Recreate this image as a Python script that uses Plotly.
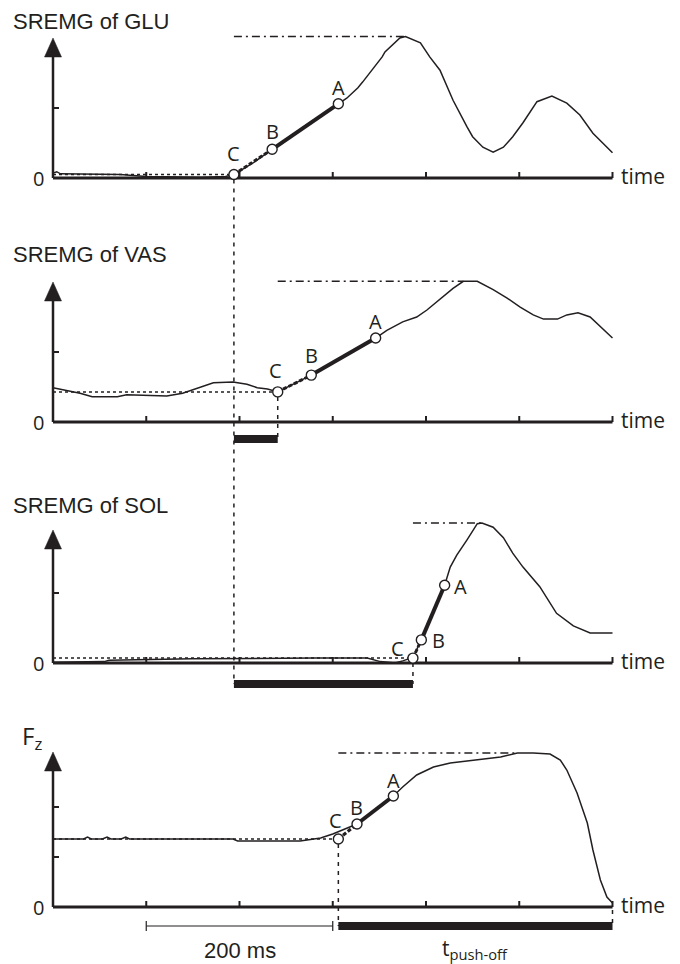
import plotly.graph_objects as go

# ---------------- data (time in ms, signal in axis-tick units) ----------------
glu_t = [0, 4, 8, 20, 40, 72, 100, 130, 160, 185, 194, 215, 235, 270, 306, 315, 327, 332,
         353, 356, 372, 378, 394, 404, 415, 429, 444, 450, 461, 472, 483, 493, 504, 519,
         535, 551, 565, 579, 600]
glu_y = [0.07, 0.09, 0.06, 0.06, 0.06, 0.05, 0.02, 0.01, 0.01, 0.02, 0.05, 0.22, 0.41,
         0.74, 1.06, 1.14, 1.29, 1.37, 1.73, 1.80, 2.00, 2.02, 1.93, 1.73, 1.54, 1.11, 0.73,
         0.59, 0.44, 0.37, 0.44, 0.59, 0.79, 1.09, 1.17, 1.07, 0.90, 0.64, 0.36]
glu_key_t = [194, 235, 306]          # C, B, A
glu_key_y = [0.05, 0.41, 1.06]

vas_t = [0, 7.5, 29, 42, 69, 79, 100, 122, 139, 158, 172, 193, 208, 219, 230, 241, 277,
         346, 358, 375, 390, 401, 415, 429, 440, 455, 472, 487, 501, 515, 526, 541, 551,
         563, 576, 587, 600]
vas_y = [0.49, 0.47, 0.41, 0.36, 0.36, 0.39, 0.38, 0.37, 0.41, 0.50, 0.56, 0.57, 0.54,
         0.49, 0.47, 0.43, 0.67, 1.20, 1.31, 1.43, 1.50, 1.60, 1.76, 1.91, 2.01, 2.01,
         1.89, 1.77, 1.64, 1.53, 1.47, 1.47, 1.53, 1.56, 1.50, 1.36, 1.20]
vas_key_t = [241, 277, 346]
vas_key_y = [0.43, 0.67, 1.20]

sol_t = [0, 55, 60, 150, 280, 337, 351, 367, 375, 386, 395, 420, 426, 433, 444, 455, 460,
         472, 483, 493, 504, 522, 540, 558, 576, 600]
sol_y = [0.01, 0.02, 0.04, 0.06, 0.07, 0.07, 0.02, 0.00, 0.03, 0.08, 0.33, 1.11, 1.37,
         1.54, 1.76, 1.99, 2.00, 1.94, 1.79, 1.57, 1.37, 1.09, 0.71, 0.53, 0.43, 0.43]
sol_key_t = [386, 395, 420]
sol_key_y = [0.07, 0.33, 1.11]

fz_t = [0, 33, 37, 41, 53, 58, 62, 73, 78, 82, 193, 198, 265, 279, 287, 300, 315, 326,
        365, 375, 390, 408, 426, 451, 480, 498, 515, 533, 544, 551, 562, 573, 579, 587,
        594, 600]
fz_y = [1.36, 1.36, 1.40, 1.36, 1.36, 1.40, 1.36, 1.36, 1.40, 1.36, 1.36, 1.32, 1.32,
        1.36, 1.38, 1.46, 1.58, 1.66, 2.22, 2.40, 2.64, 2.80, 2.88, 2.94, 3.00, 3.08,
        3.08, 3.06, 2.94, 2.74, 2.28, 1.68, 1.14, 0.54, 0.20, 0.08]
fz_key_t = [306, 326, 365]
fz_key_y = [1.36, 1.66, 2.22]

key_labels = ["C", "B", "A"]
panel_titles = ["SREMG of GLU", "SREMG of VAS", "SREMG of SOL", "F<sub>z</sub>"]
x_ticks_ms = [100, 200, 300, 400, 500, 600]
time_end_ms = 600
scale_bar_ms = [100, 300]
scale_bar_label = "200 ms"
pushoff_label = "t<sub>push-off</sub>"
axis_label = "time"

# ---------------- layout constants (pixels) ----------------
W, H = 680, 964
ORIGIN_PX = 53
PX_PER_MS = 0.9325
INK = "#231f20"
TITLE_FONT = "Liberation Sans, Arial, sans-serif"
LABEL_FONT = "Open Sans, sans-serif"


def py(px):
    return 1 - px / H


panels = [
    dict(ax="y", t=glu_t, v=glu_y, kt=glu_key_t, kv=glu_key_y, base=178, scale=70,
         arrow=140, yticks=[1], title_px=21,
         offs=[(0, 21), (0, 18), (0, 16)]),
    dict(ax="y2", t=vas_t, v=vas_y, kt=vas_key_t, kv=vas_key_y, base=422, scale=70,
         arrow=140, yticks=[1], title_px=255,
         offs=[(-2, 21), (0, 20), (0, 17)]),
    dict(ax="y3", t=sol_t, v=sol_y, kt=sol_key_t, kv=sol_key_y, base=663, scale=70,
         arrow=133, yticks=[1], title_px=505,
         offs=[(-15, 10), (17, -1), (16, -1)]),
    dict(ax="y4", t=fz_t, v=fz_y, kt=fz_key_t, kv=fz_key_y, base=907, scale=50,
         arrow=155, yticks=[1, 2], title_px=None,
         offs=[(-3, 19), (-1, 17), (0, 16)]),
]


def val_px(p, v):
    return p["base"] - v * p["scale"]


fig = go.Figure()
shapes = []
annotations = []

for i, p in enumerate(panels):
    ax = p["ax"]
    t, v, kt, kv = p["t"], p["v"], p["kt"], p["kv"]
    imax = max(range(len(v)), key=lambda k: v[k])
    # dotted pre-activation level
    fig.add_trace(go.Scatter(x=[0, kt[0]], y=[kv[0], kv[0]], mode="lines", yaxis=ax,
                             line=dict(color=INK, width=1.5, dash="3px,3px")))
    # dash-dot peak level
    fig.add_trace(go.Scatter(x=[kt[0], t[imax]], y=[v[imax], v[imax]], mode="lines",
                             yaxis=ax,
                             line=dict(color=INK, width=1.5, dash="8px,4px,2px,4px")))
    # signal
    fig.add_trace(go.Scatter(x=t, y=v, mode="lines", yaxis=ax,
                             line=dict(color=INK, width=1.5)))
    # C-B dashed, B-A thick
    fig.add_trace(go.Scatter(x=kt[0:2], y=kv[0:2], mode="lines", yaxis=ax,
                             line=dict(color=INK, width=3, dash="4px,2px")))
    fig.add_trace(go.Scatter(x=kt[1:3], y=kv[1:3], mode="lines", yaxis=ax,
                             line=dict(color=INK, width=4)))
    fig.add_trace(go.Scatter(x=kt, y=kv, mode="markers", yaxis=ax,
                             marker=dict(size=10, color="white",
                                         line=dict(color=INK, width=1.4))))
    yref = ax
    # x axis line
    shapes.append(dict(type="line", xref="x", yref=yref, x0=0, x1=time_end_ms, y0=0, y1=0,
                       line=dict(color=INK, width=3), layer="below"))
    for tk in x_ticks_ms:
        shapes.append(dict(type="line", xref="x", yref=yref, ysizemode="pixel", yanchor=0,
                           x0=tk, x1=tk, y0=0, y1=6, line=dict(color=INK, width=2),
                           layer="below"))
    # y axis line + arrow
    top = p["arrow"] / p["scale"]
    shapes.append(dict(type="line", xref="x", yref=yref, ysizemode="pixel", yanchor=0,
                       x0=0, x1=0, y0=0, y1=p["arrow"] - 16,
                       line=dict(color=INK, width=2.5), layer="below"))
    shapes.append(dict(type="path", xref="x", yref=yref, xsizemode="pixel",
                       ysizemode="pixel", xanchor=0, yanchor=top,
                       path="M -8.5,-19 L 8.5,-19 L 0,0 Z", fillcolor=INK,
                       line=dict(color=INK, width=0.5)))
    for yt in p["yticks"]:
        shapes.append(dict(type="line", xref="x", yref=yref, xsizemode="pixel", xanchor=0,
                           x0=0, x1=6, y0=yt, y1=yt, line=dict(color=INK, width=2),
                           layer="below"))
    # "0" and "time"
    annotations.append(dict(x=0, y=0, xref="x", yref=yref, text="0", showarrow=False,
                            xanchor="center", yanchor="middle", xshift=-15,
                            font=dict(family=LABEL_FONT, size=20, color=INK)))
    annotations.append(dict(x=time_end_ms, y=0, xref="x", yref=yref, text=axis_label,
                            showarrow=False, xanchor="left", yanchor="middle", xshift=6,
                            yshift=2, font=dict(family=LABEL_FONT, size=21, color=INK)))
    # key point labels
    for lab, tx, vy, (dx, dy) in zip(key_labels, kt, kv, p["offs"]):
        annotations.append(dict(x=tx, y=vy, xref="x", yref=yref, text=lab, showarrow=False,
                                xanchor="center", yanchor="middle", xshift=dx, yshift=dy,
                                font=dict(family=LABEL_FONT, size=20, color=INK)))
    if p["title_px"] is not None:
        annotations.append(dict(x=11 / W, y=py(p["title_px"]), xref="paper", yref="paper",
                                text=panel_titles[i], showarrow=False, xanchor="left",
                                yanchor="middle",
                                font=dict(family=TITLE_FONT, size=22, color=INK)))

# Fz label
annotations.append(dict(x=20 / W, y=py(737), xref="paper", yref="paper",
                        text=panel_titles[3], showarrow=False, xanchor="left",
                        yanchor="middle", font=dict(family=LABEL_FONT, size=24, color=INK)))

# ---------------- onset bars and connecting dotted lines ----------------
glu, vas, sol, fz = panels
BAR_H = 8
vas_bar_px = vas["base"] + 17
sol_bar_px = sol["base"] + 21
fz_bar_px = fz["base"] + 19
dot = dict(color=INK, width=1.5, dash="4px,5px")


def bar(x0, x1, cpx):
    shapes.append(dict(type="rect", xref="x", yref="paper", x0=x0, x1=x1,
                       y0=py(cpx + BAR_H / 2), y1=py(cpx - BAR_H / 2),
                       fillcolor=INK, line=dict(width=0)))


def vdot(x, px0, px1):
    shapes.append(dict(type="line", xref="x", yref="paper", x0=x, x1=x, y0=py(px0),
                       y1=py(px1), line=dot))


bar(glu_key_t[0], vas_key_t[0], vas_bar_px)
bar(glu_key_t[0], sol_key_t[0], sol_bar_px)
bar(fz_key_t[0], time_end_ms, fz_bar_px)
vdot(glu_key_t[0], val_px(glu, glu_key_y[0]) + 5, sol_bar_px)
vdot(vas_key_t[0], val_px(vas, vas_key_y[0]) + 5, vas_bar_px)
vdot(sol_key_t[0], val_px(sol, sol_key_y[0]) + 5, sol_bar_px)
vdot(fz_key_t[0], val_px(fz, fz_key_y[0]) + 5, fz_bar_px)
vdot(time_end_ms, fz["base"] + 3, fz_bar_px)

# 200 ms scale bar
shapes.append(dict(type="line", xref="x", yref="paper", x0=scale_bar_ms[0],
                   x1=scale_bar_ms[1], y0=py(fz_bar_px), y1=py(fz_bar_px),
                   line=dict(color=INK, width=1.2)))
for sx in scale_bar_ms:
    shapes.append(dict(type="line", xref="x", yref="paper", x0=sx, x1=sx,
                       y0=py(fz_bar_px - 5), y1=py(fz_bar_px + 5),
                       line=dict(color=INK, width=1.2)))
annotations.append(dict(x=sum(scale_bar_ms) / 2, y=py(950), xref="x", yref="paper",
                        text=scale_bar_label, showarrow=False, xanchor="center",
                        yanchor="middle", font=dict(family=TITLE_FONT, size=22, color=INK)))
annotations.append(dict(x=(fz_key_t[0] + time_end_ms) / 2, y=py(949), xref="x",
                        yref="paper", text=pushoff_label, showarrow=False,
                        xanchor="center", yanchor="middle",
                        font=dict(family=LABEL_FONT, size=21, color=INK)))

# ---------------- axes ----------------
layout_axes = {}
for i, p in enumerate(panels):
    name = "yaxis" if i == 0 else "yaxis%d" % (i + 1)
    ax = dict(range=[-(H - p["base"]) / p["scale"], p["base"] / p["scale"]],
              domain=[0, 1], visible=False, fixedrange=True)
    if i > 0:
        ax["overlaying"] = "y"
    layout_axes[name] = ax

fig.update_layout(
    width=W, height=H, margin=dict(l=0, r=0, t=0, b=0),
    paper_bgcolor="white", plot_bgcolor="white", showlegend=False,
    xaxis=dict(range=[-ORIGIN_PX / PX_PER_MS, (W - ORIGIN_PX) / PX_PER_MS],
               domain=[0, 1], visible=False, fixedrange=True),
    shapes=shapes, annotations=annotations, **layout_axes)

fig.write_html("out.html")
